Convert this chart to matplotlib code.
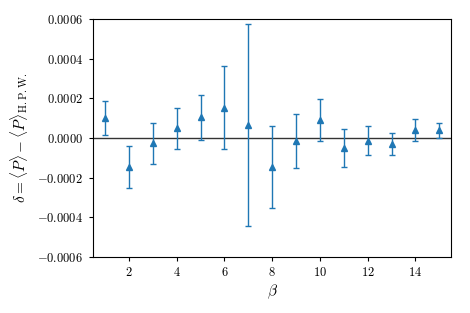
import matplotlib
matplotlib.use("Agg")
import matplotlib.pyplot as plt
from matplotlib.ticker import FuncFormatter, MultipleLocator

plt.rcParams['font.family'] = 'serif'
plt.rcParams['font.serif'] = ['cmr10', 'DejaVu Serif']
plt.rcParams['mathtext.fontset'] = 'cm'
plt.rcParams['axes.formatter.use_mathtext'] = True
plt.rcParams['axes.unicode_minus'] = False

beta = [1, 2, 3, 4, 5, 6, 7, 8, 9, 10, 11, 12, 13, 14, 15]
delta = [0.000100, -0.000145, -0.000027, 0.000049, 0.000104, 0.000153, 0.000066,
         -0.000148, -0.000015, 0.000091, -0.000049, -0.000013, -0.000030, 0.000040, 0.000040]
err = [0.000085, 0.000105, 0.000105, 0.000103, 0.000115, 0.000210, 0.000508,
       0.000207, 0.000136, 0.000106, 0.000096, 0.000075, 0.000055, 0.000054, 0.000038]

fig = plt.figure(figsize=(4.7, 3.13), dpi=100)
ax = fig.add_axes([0.198, 0.179, 0.762, 0.760])
ax.axhline(0, color='k', lw=1, alpha=0.8)
ax.errorbar(beta, delta, yerr=err, fmt='^', color='C0', ms=5, capsize=2.4, elinewidth=1, capthick=1)
ax.set_xlim(0.5, 15.5)
ax.set_ylim(-0.0006, 0.0006)
ax.xaxis.set_major_locator(MultipleLocator(2))
ax.yaxis.set_major_locator(MultipleLocator(0.0002))
ax.yaxis.set_major_formatter(FuncFormatter(lambda v, p: '$%.4f$' % v if abs(v) > 1e-12 else '$0.0000$'))
ax.xaxis.set_major_formatter(FuncFormatter(lambda v, p: '$%d$' % v))
ax.tick_params(labelsize=9, length=2.8, width=0.8)
ax.tick_params(axis='y', pad=4.5)
ax.tick_params(axis='x', pad=3.5)
for s in ax.spines.values():
    s.set_linewidth(0.8)
ax.set_xlabel(r'$\beta$', fontsize=11, labelpad=3)
ax.set_ylabel(r'$\delta = \langle P\rangle - \langle P\rangle_{\mathrm{H.P.W.}}$', fontsize=11, labelpad=5)
fig.savefig('out.png', dpi=100)
